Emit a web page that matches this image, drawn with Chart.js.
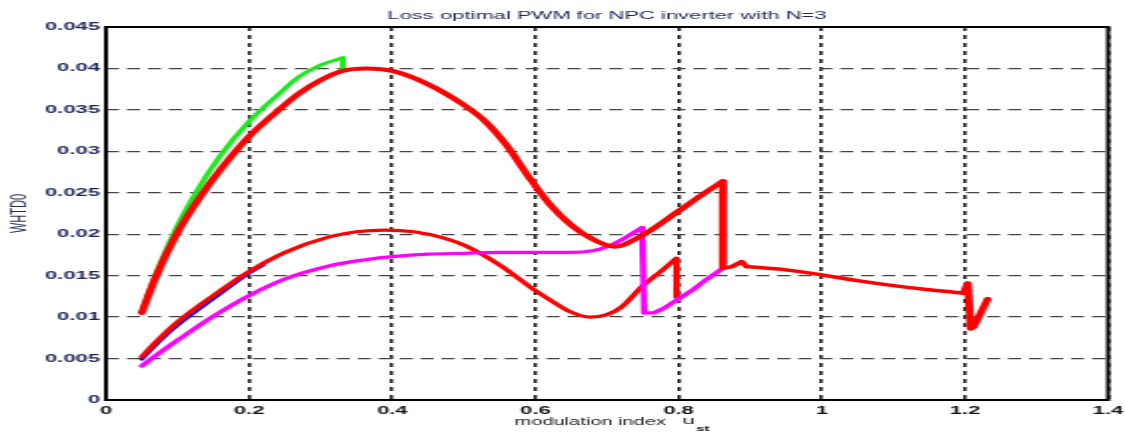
<!DOCTYPE html>
<html><head><meta charset="utf-8">
<script src="https://cdn.jsdelivr.net/npm/chart.js@4.4.0/dist/chart.umd.min.js"></script>
<style>
html,body{margin:0;padding:0;background:#fff;overflow:hidden;width:1125px;height:432px;}
#wrap{position:absolute;left:0;top:0;width:563px;height:432px;transform:scaleX(1.99822);transform-origin:0 0;}
</style></head><body>
<div id="wrap"><canvas id="c"></canvas></div>
<script>
// ---- tick definitions ----
const xTicks = [0, 0.2, 0.4, 0.6, 0.8, 1, 1.2, 1.4];
const xTickLabels = ['0', '0.2', '0.4', '0.6', '0.8', '1', '1.2', '1.4'];
const yTicks = [0, 0.005, 0.01, 0.015, 0.02, 0.025, 0.03, 0.035, 0.04, 0.045];
const yTickLabels = ['0', '0.005', '0.01', '0.015', '0.02', '0.025', '0.03', '0.035', '0.04', '0.045'];

// ---- green curve ----
const greenX = [0.05, 0.07, 0.10, 0.13, 0.16, 0.20, 0.24, 0.27, 0.30, 0.331];
const greenY = [0.0106, 0.0152, 0.0210, 0.0256, 0.0295, 0.0336, 0.0368, 0.0390, 0.0404, 0.0413];
const greenDropX = [0.331, 0.331];
const greenDropY = [0.0413, 0.0399];

// ---- upper red curve ----
const redUpX = [0.05, 0.07, 0.10, 0.13, 0.16, 0.20, 0.24, 0.27, 0.30, 0.33, 0.364, 0.40, 0.45, 0.50, 0.53, 0.56, 0.59, 0.62, 0.65, 0.68, 0.71, 0.75, 0.80, 0.83, 0.862];
const redUpY = [0.0105, 0.0149, 0.0202, 0.0243, 0.0278, 0.0318, 0.0349, 0.0370, 0.0386, 0.0397, 0.0400, 0.0397, 0.0381, 0.0356, 0.0336, 0.0307, 0.0270, 0.0236, 0.0211, 0.0194, 0.0185, 0.0199, 0.0228, 0.0246, 0.0264];
const redDropX = [0.862, 0.862];
const redDropY = [0.0264, 0.0159];
const redBumpX = [0.862, 0.875, 0.888, 0.895];
const redBumpY = [0.0159, 0.0161, 0.0167, 0.0161];
const redTailX = [0.895, 0.95, 1.0, 1.05, 1.10, 1.15, 1.198];
const redTailY = [0.0161, 0.0157, 0.0151, 0.0144, 0.0138, 0.0133, 0.0129];
const redEndX = [1.198, 1.204, 1.208, 1.212, 1.232];
const redEndY = [0.0129, 0.0141, 0.0086, 0.0088, 0.0122];

// ---- lower red curve ----
const redLowX = [0.05, 0.07, 0.10, 0.15, 0.20, 0.25, 0.313, 0.35, 0.39, 0.43, 0.47, 0.50, 0.55, 0.60, 0.62, 0.65, 0.676, 0.70, 0.72, 0.749, 0.775, 0.797];
const redLowY = [0.0052, 0.0070, 0.0094, 0.0126, 0.0155, 0.0178, 0.0197, 0.0203, 0.0205, 0.0203, 0.0196, 0.0187, 0.0163, 0.0132, 0.0121, 0.0106, 0.0100, 0.0103, 0.0112, 0.0137, 0.0155, 0.0171];
const redLowDropX = [0.797, 0.797];
const redLowDropY = [0.0171, 0.0124];

// ---- blue curve ----
const blueX = [0.05, 0.08, 0.10, 0.15, 0.20, 0.22];
const blueY = [0.0049, 0.0075, 0.0090, 0.0122, 0.0153, 0.0163];

// ---- magenta curve ----
const magX = [0.05, 0.08, 0.10, 0.15, 0.20, 0.25, 0.313, 0.36, 0.40, 0.45, 0.50, 0.55, 0.60, 0.65, 0.68, 0.70, 0.72, 0.749];
const magY = [0.0041, 0.0060, 0.0072, 0.0101, 0.0126, 0.0146, 0.0162, 0.0169, 0.0173, 0.0176, 0.0177, 0.0178, 0.0178, 0.0178, 0.0180, 0.0185, 0.0193, 0.0208];
const magDropX = [0.749, 0.752];
const magDropY = [0.0208, 0.0105];
const mag2X = [0.752, 0.765, 0.78, 0.798, 0.82, 0.84, 0.862];
const mag2Y = [0.0105, 0.0105, 0.0111, 0.0121, 0.0133, 0.0146, 0.0159];

const RED = '#ff0000', GREEN = '#1ee81e', BLUE = '#0000ff', MAG = '#ff00ff';

function seg(xs, ys, color, width, order, smooth) {
  return {
    data: xs.map((x, i) => ({x: x, y: ys[i]})),
    borderColor: color, backgroundColor: color, borderWidth: width, order: order,
    pointRadius: 0, pointHoverRadius: 0, fill: false,
    cubicInterpolationMode: smooth ? 'monotone' : 'default', tension: 0,
    borderJoinStyle: 'round', borderCapStyle: 'round'
  };
}

const datasets = [
  seg(greenX, greenY, GREEN, 3, 6, true),
  seg(greenDropX, greenDropY, GREEN, 3, 6, false),
  seg(blueX, blueY, BLUE, 2.5, 5, true),
  seg(redLowX, redLowY, RED, 3.2, 4, true),
  seg(redLowDropX, redLowDropY, RED, 3.2, 4, false),
  seg(magX, magY, MAG, 3.2, 3, true),
  seg(magDropX, magDropY, MAG, 3.2, 3, false),
  seg(mag2X, mag2Y, MAG, 3.2, 3, false),
  seg(redUpX, redUpY, RED, 4, 1, true),
  seg(redDropX, redDropY, RED, 4, 1, false),
  seg(redBumpX, redBumpY, RED, 3.5, 1, false),
  seg(redTailX, redTailY, RED, 3.5, 1, true),
  seg(redEndX, redEndY, RED, 4, 1, false)
];

const FONT = "'Liberation Sans', Arial, Helvetica, sans-serif";

const framePlugin = {
  id: 'frame',
  afterDraw(chart) {
    const {ctx, chartArea: a} = chart;
    ctx.save();
    ctx.strokeStyle = '#000';
    ctx.lineWidth = 2;
    ctx.setLineDash([]);
    ctx.strokeRect(a.left, a.top, a.right - a.left, a.bottom - a.top);
    // x-axis title with subscript
    const cx = (a.left + a.right) / 2;
    ctx.fillStyle = '#222';
    ctx.textBaseline = 'alphabetic';
    ctx.font = '10px ' + FONT;
    const t1 = 'modulation index   ';
    const w1 = ctx.measureText(t1).width;
    ctx.font = '11px ' + FONT;
    const w2 = ctx.measureText('u').width;
    ctx.font = '8px ' + FONT;
    const w3 = ctx.measureText('st').width;
    let x0 = cx - (w1 + w2 + w3) / 2 + 2;
    const base = 425;
    ctx.textAlign = 'left';
    ctx.font = '10px ' + FONT;
    ctx.fillText(t1, x0, base);
    ctx.font = '11px ' + FONT;
    ctx.fillText('u', x0 + w1, base - 1);
    ctx.font = 'bold 8px ' + FONT;
    ctx.fillText('st', x0 + w1 + w2 + 0.5, base + 6);
    ctx.restore();
  }
};

new Chart(document.getElementById('c'), {
  type: 'line',
  data: {datasets: datasets},
  options: {
    responsive: true, maintainAspectRatio: false, animation: false, devicePixelRatio: 1,
    layout: {padding: {left: 0, right: 8.5, top: 0, bottom: 0}},
    plugins: {
      legend: {display: false}, tooltip: {enabled: false},
      title: {display: true, fullSize: false, text: 'Loss optimal PWM for NPC inverter with N=3',
        color: '#1c2358', font: {family: FONT, size: 11, weight: 'normal'}, padding: {top: 9, bottom: 4.8}}
    },
    scales: {
      x: {
        type: 'linear', min: 0, max: 1.4,
        afterBuildTicks: (s) => { s.ticks = xTicks.map(v => ({value: v})); },
        afterFit: (s) => { s.height = 32; s.paddingLeft = 0; s.paddingRight = 0; },
        ticks: {callback: (v, i) => xTickLabels[i], color: '#111', padding: 4, maxRotation: 0, autoSkip: false,
          font: {family: FONT, size: 11, weight: 'bold'}},
        grid: {color: '#222', lineWidth: 1.6, drawTicks: false},
        border: {display: false, dash: [4, 4]}
      },
      y: {
        type: 'linear', min: 0, max: 0.045,
        afterBuildTicks: (s) => { s.ticks = yTicks.map(v => ({value: v})); },
        afterFit: (s) => { s.width = 53; s.paddingTop = 0; s.paddingBottom = 0; },
        ticks: {callback: (v, i) => yTickLabels[i], color: '#1c2358', padding: 3, autoSkip: false,
          font: {family: FONT, size: 11, weight: 'bold'}},
        grid: {color: '#444', lineWidth: 1.3, drawTicks: false},
        border: {display: false, dash: [6.5, 4]},
        title: {display: true, text: 'WHTD0', color: '#2a2f55', font: {family: FONT, size: 11}, padding: {top: 3.4, bottom: 0}}
      }
    }
  },
  plugins: [framePlugin]
});
</script>
</body></html>
